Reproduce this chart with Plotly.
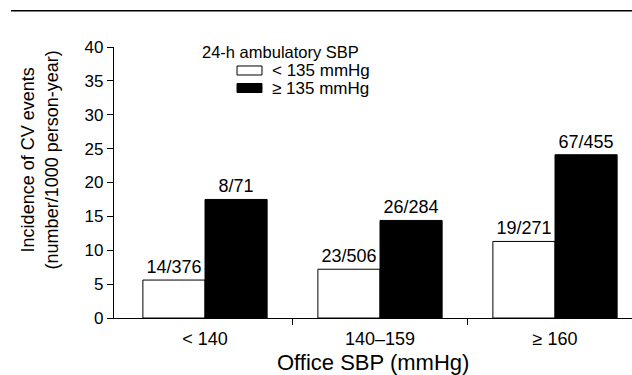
import plotly.graph_objects as go

categories = ["&lt; 140", "140\u2013159", "\u2265 160"]
below_135 = [5.6, 7.2, 11.3]
above_135 = [17.5, 14.4, 24.1]
below_labels = ["14/376", "23/506", "19/271"]
above_labels = ["8/71", "26/284", "67/455"]
series_names = ["&lt; 135 mmHg", "\u2265 135 mmHg"]
series_colors = ["white", "black"]
legend_title = "24-h ambulatory SBP"
y_ticks = [0, 5, 10, 15, 20, 25, 30, 35, 40]

FONT = "Liberation Sans, Arial, sans-serif"
xpos = list(range(len(categories)))

fig = go.Figure()
for vals, labels, name, color in [
    (below_135, below_labels, series_names[0], series_colors[0]),
    (above_135, above_labels, series_names[1], series_colors[1]),
]:
    fig.add_trace(go.Bar(
        x=xpos, y=vals, name=name,
        marker=dict(color=color, line=dict(color="black", width=1)),
        text=labels, textposition="outside", cliponaxis=False,
        textfont=dict(size=18, color="black", family=FONT),
        showlegend=False, hoverinfo="skip",
    ))

fig.update_layout(
    width=632, height=375,
    margin=dict(l=114, r=0, t=47, b=57, autoexpand=False),
    paper_bgcolor="white", plot_bgcolor="white",
    font=dict(family=FONT, size=17, color="black"),
    barmode="group", bargap=0.29, bargroupgap=0,
    xaxis=dict(
        range=[-0.52, 2.44], automargin=False,
        tickvals=xpos, ticktext=categories,
        ticks="outside", ticklen=4, tickcolor="rgba(0,0,0,0)",
        minor=dict(tickvals=[0.5, 1.5], ticks="outside", ticklen=6,
                   tickcolor="black", tickwidth=1.2),
        showline=True, linecolor="black", linewidth=1.2,
        showgrid=False, zeroline=False,
        tickfont=dict(size=18),
    ),
    yaxis=dict(
        range=[0, 40], tickvals=y_ticks, automargin=False,
        ticks="outside", ticklen=6, tickcolor="black", tickwidth=1.2,
        showline=True, linecolor="black", linewidth=1.2,
        showgrid=False, zeroline=False,
        tickfont=dict(size=17),
    ),
)

# axis titles
fig.add_annotation(
    text="Office SBP (mmHg)", xref="paper", yref="paper",
    x=0.5, y=-0.166, xanchor="center", yanchor="middle",
    showarrow=False, font=dict(size=22, family=FONT),
)
fig.add_annotation(
    text="Incidence of CV events<br>(number/1000 person-year)",
    xref="paper", yref="paper", x=-0.143, y=0.585,
    xanchor="center", yanchor="middle", textangle=-90,
    showarrow=False, font=dict(size=18, family=FONT),
)

# legend (drawn in paper space)
fig.add_annotation(
    text=legend_title, xref="paper", yref="paper",
    x=0.3205, y=0.9815, xanchor="center", yanchor="middle",
    showarrow=False, font=dict(size=16.5, family=FONT),
)
swatches = [(0.8967, 0.9299, 0.9133), (0.8321, 0.8653, 0.8487)]
for (y0, y1, yc), name, color in zip(swatches, series_names, series_colors):
    fig.add_shape(type="rect", xref="paper", yref="paper",
                  x0=0.2375, x1=0.2857, y0=y0, y1=y1,
                  fillcolor=color, line=dict(color="black", width=1))
    fig.add_annotation(
        text=name, xref="paper", yref="paper",
        x=0.3015, y=yc, xanchor="left", yanchor="middle",
        showarrow=False, font=dict(size=17, family=FONT),
    )

# header rule at the top of the figure
fig.add_shape(type="line", xref="paper", yref="paper",
              x0=-0.1988, x1=1.0, y0=1.134, y1=1.134,
              line=dict(color="black", width=1.5))

fig.write_html(
    "out.html",
    config={"displayModeBar": False},
    post_script="document.body.style.margin='0';"
                "document.body.style.overflow='hidden';",
)
